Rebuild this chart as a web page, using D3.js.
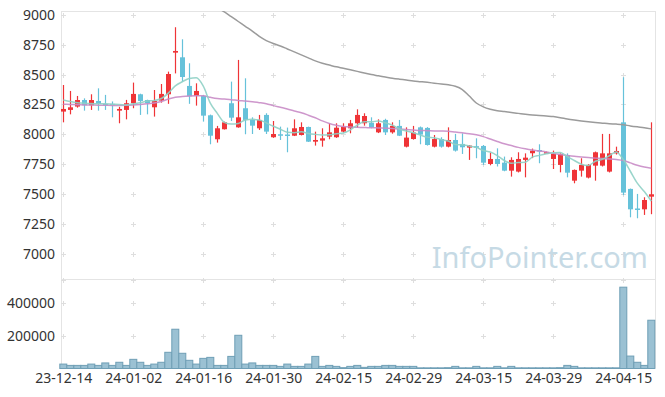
<!DOCTYPE html>
<html>
<head>
<meta charset="utf-8">
<script src="https://cdn.jsdelivr.net/npm/d3@7"></script>
<style>
  body { margin: 0; background: #fff; }
  svg { display: block; font-family: "Noto Sans", sans-serif; }
</style>
</head>
<body>
<script>
// trading days shown (yy-mm-dd)
const dates = [
  "23-12-14","23-12-15","23-12-18","23-12-19","23-12-20","23-12-21","23-12-22","23-12-26","23-12-27","23-12-28",
  "24-01-02","24-01-03","24-01-04","24-01-05","24-01-08","24-01-09","24-01-10","24-01-11","24-01-12","24-01-15",
  "24-01-16","24-01-17","24-01-18","24-01-19","24-01-22","24-01-23","24-01-24","24-01-25","24-01-26","24-01-29",
  "24-01-30","24-01-31","24-02-01","24-02-02","24-02-05","24-02-06","24-02-07","24-02-08","24-02-13","24-02-14",
  "24-02-15","24-02-16","24-02-19","24-02-20","24-02-21","24-02-22","24-02-23","24-02-26","24-02-27","24-02-28",
  "24-02-29","24-03-04","24-03-05","24-03-06","24-03-07","24-03-08","24-03-11","24-03-12","24-03-13","24-03-14",
  "24-03-15","24-03-18","24-03-19","24-03-20","24-03-21","24-03-22","24-03-25","24-03-26","24-03-27","24-03-28",
  "24-03-29","24-04-01","24-04-02","24-04-03","24-04-04","24-04-05","24-04-08","24-04-09","24-04-11","24-04-12",
  "24-04-15","24-04-16","24-04-17","24-04-18","24-04-19"
];

const opens = [
  8190,8204,8232,8287,8243,8279,8254,8255,8198,8204,
  8260,8335,8287,8226,8282,8335,8684,8645,8405,8321,
  8321,8159,7958,8042,8260,8058,8218,8120,8050,8162,
  7975,8000,7998,7988,7994,8061,7938,7947,7980,7975,
  8022,8050,8092,8092,8097,8016,8120,8016,8070,7896,
  7960,8058,8053,7896,7960,7896,7952,7919,7888,7900,
  7902,7751,7793,7762,7695,7687,7785,7841,7868,7850,
  7793,7743,7826,7611,7695,7637,7737,7737,7687,7840,
  8100,7542,7378,7371,7477
];
const highs = [
  8413,8363,8321,8301,8335,8385,8330,8275,8230,8288,
  8433,8340,8290,8371,8421,8525,8897,8796,8595,8427,
  8330,8165,8070,8106,8441,8623,8469,8142,8162,8176,
  8111,8064,8056,8125,8100,8064,8022,8050,8092,8092,
  8092,8120,8209,8176,8142,8125,8130,8100,8120,8058,
  8070,8065,8060,7994,7975,8058,8003,8008,7910,7966,
  7910,7846,7882,7813,7807,7849,7840,7880,7916,7855,
  7863,7840,7840,7705,7799,7750,7855,8003,8003,7896,
  8478,7545,7500,7472,8100
];
const lows = [
  8100,8167,8223,8198,8204,8198,8204,8142,8092,8125,
  8218,8162,8167,8148,8265,8255,8510,8440,8255,8240,
  8106,7916,7930,8040,8111,8055,8000,8002,8036,8002,
  7970,7952,7849,7985,7990,7935,7905,7896,7958,7970,
  8016,8008,8055,8072,8050,8010,7994,8005,7985,7890,
  7955,7916,7905,7890,7888,7890,7855,7835,7785,7799,
  7743,7740,7730,7690,7645,7680,7639,7800,7757,7845,
  7709,7681,7639,7589,7645,7630,7611,7730,7680,7830,
  7490,7304,7296,7324,7330
];
const closes = [
  8212,8226,8287,8243,8287,8254,8246,8245,8212,8260,
  8338,8279,8260,8279,8338,8505,8698,8480,8318,8363,
  8156,7988,8050,8100,8139,8142,8120,8072,8120,8022,
  8002,7994,7994,8050,8061,7938,7952,7966,8016,8055,
  8061,8092,8162,8153,8056,8092,8016,8070,7988,7972,
  8014,7997,7910,7960,7896,7952,7863,7891,7905,7895,
  7762,7793,7751,7695,7785,7793,7804,7863,7860,7850,
  7835,7835,7678,7701,7743,7743,7849,7840,7840,7860,
  7511,7371,7371,7449,7497
];
const volumes = [
  27000,19000,19000,19000,27000,19000,34000,19000,38000,19000,
  56000,38000,19000,27000,38000,99000,240000,93000,50000,27000,
  62000,68000,19000,19000,74000,203000,27000,34000,19000,19000,
  19000,13000,27000,13000,13000,27000,74000,13000,19000,13000,
  5000,13000,19000,7000,13000,13000,19000,19000,13000,13000,
  13000,4000,4000,4000,4000,5000,13000,4000,4000,13000,
  4000,4000,13000,4000,13000,4000,4000,4000,4000,4000,
  4000,5000,19000,13000,4000,4000,4000,4000,4000,4000,
  497000,76000,38000,19000,295000
];

// moving averages as drawn
const ma5 = [
  8288,8275,8265,8260,8258,8255,8255,8252,8250,8245,
  8255,8265,8278,8283,8300,8345,8405,8440,8468,8473,
  8403,8261,8175,8100,8085,8090,8120,8125,8120,8095,
  8067,8042,8017,8013,8020,8007,7999,7993,7995,8005,
  8010,8037,8077,8105,8105,8111,8096,8077,8044,8027,
  8012,7993,7976,7971,7955,7943,7914,7912,7901,7890,
  7864,7851,7821,7780,7757,7763,7766,7808,7823,7836,
  7846,7848,7812,7780,7749,7738,7774,7790,7820,7852,
  7788,7690,7590,7520,7440
];
const ma20 = [
  8252,8250,8248,8246,8245,8244,8243,8242,8242,8243,
  8246,8250,8255,8262,8275,8295,8310,8316,8320,8322,
  8322,8310,8300,8295,8290,8283,8278,8272,8265,8256,
  8240,8226,8212,8195,8180,8160,8138,8112,8090,8075,
  8065,8060,8058,8056,8055,8053,8051,8049,8045,8040,
  8036,8032,8030,8028,8027,8025,8018,8012,8005,7995,
  7980,7960,7940,7920,7905,7890,7878,7868,7860,7852,
  7840,7830,7822,7815,7810,7805,7800,7797,7793,7788,
  7780,7760,7740,7725,7715
];
const ma60 = [
  null,null,null,null,null,null,null,null,null,null,
  null,null,null,null,null,null,null,null,null,null,
  null,9090,9060,9025,8985,8945,8905,8865,8820,8785,
  8760,8740,8715,8690,8665,8640,8615,8595,8580,8565,
  8553,8540,8527,8513,8500,8490,8480,8470,8462,8455,
  8447,8441,8435,8428,8421,8414,8402,8375,8320,8262,
  8230,8210,8197,8190,8182,8175,8168,8162,8158,8153,
  8148,8139,8128,8119,8111,8104,8098,8093,8088,8085,
  8080,8070,8062,8055,8045
];

const priceTicks = [9000, 8750, 8500, 8250, 8000, 7750, 7500, 7250, 7000];
const volumeTicks = [400000, 200000];
const dateTicks = [0, 10, 20, 30, 40, 50, 60, 70, 80];

const width = 665, height = 397;
const plotLeft = 61, plotRight = 656, plotTop = 11, plotMid = 279, plotBottom = 368.5;

const x = d3.scaleLinear().domain([0, 84]).range([63.3, 651.3]);
const y = d3.scaleLinear().domain([6787, 9033]).range([plotMid, plotTop]);
const yv = d3.scaleLinear().domain([0, 547000]).range([plotBottom, plotMid]);

const svg = d3.select("body").append("svg")
  .attr("width", width)
  .attr("height", height);

svg.append("clipPath").attr("id", "price-clip")
  .append("rect").attr("x", plotLeft).attr("y", plotTop)
  .attr("width", plotRight - plotLeft).attr("height", plotMid - plotTop);

// frame
const frame = svg.append("g").attr("stroke", "#e4e4e4").attr("stroke-width", 1).attr("fill", "none");
frame.append("line").attr("x1", plotLeft).attr("x2", plotRight).attr("y1", plotTop + 0.5).attr("y2", plotTop + 0.5);
frame.append("line").attr("x1", plotLeft).attr("x2", plotRight).attr("y1", plotMid + 0.5).attr("y2", plotMid + 0.5);
frame.append("line").attr("x1", plotLeft + 0.5).attr("x2", plotLeft + 0.5).attr("y1", plotTop).attr("y2", plotBottom);
frame.append("line").attr("x1", plotRight - 0.5).attr("x2", plotRight - 0.5).attr("y1", plotTop).attr("y2", plotBottom);

// little "+" grid marks
const gridYs = priceTicks.map(d => y(d)).concat(volumeTicks.map(d => yv(d)), [plotMid + 0.5]);
const marks = [];
dateTicks.forEach(t => gridYs.forEach(gy => marks.push([Math.round(x(t)) + 0.5, Math.round(gy) + 0.5])));
svg.append("g").selectAll("path").data(marks).enter().append("path")
  .attr("d", d => `M${d[0] - 2.5},${d[1]}H${d[0] + 2.5}M${d[0]},${d[1] - 2.5}V${d[1] + 2.5}`)
  .attr("stroke", "#dedede")
  .attr("stroke-width", 1);

// watermark
svg.append("text")
  .attr("x", 648).attr("y", 268)
  .attr("text-anchor", "end")
  .attr("font-size", 29)
  .attr("fill", "#c6dae5")
  .text("InfoPointer.com");

// axes
const yAxis = d3.axisLeft(y).tickValues(priceTicks).tickFormat(d3.format("d")).tickSize(0).tickPadding(6);
const vAxis = d3.axisLeft(yv).tickValues(volumeTicks).tickFormat(d3.format("d")).tickSize(0).tickPadding(6);
const xAxis = d3.axisBottom(x).tickValues(dateTicks).tickFormat(i => dates[i]).tickSize(0).tickPadding(5);

[svg.append("g").attr("transform", `translate(${plotLeft},0)`).call(yAxis),
 svg.append("g").attr("transform", `translate(${plotLeft},0)`).call(vAxis),
 svg.append("g").attr("transform", `translate(0,${plotBottom})`).call(xAxis)
].forEach(g => {
  g.select(".domain").remove();
  g.selectAll("text").attr("font-size", 14).attr("fill", "#333").attr("font-family", "Noto Sans, sans-serif");
});

// volume bars
svg.append("g").selectAll("rect").data(volumes).enter().append("rect")
  .attr("x", (d, i) => x(i) - 3.5)
  .attr("y", d => yv(d))
  .attr("width", 7)
  .attr("height", d => plotBottom - yv(d))
  .attr("fill", "#9bc1d3")
  .attr("stroke", "#6f9fb6")
  .attr("stroke-width", 1);

// candles
const up = "#ef3437", down = "#66c2da";
const candles = svg.append("g").attr("clip-path", "url(#price-clip)")
  .selectAll("g").data(dates).enter().append("g");
candles.append("line")
  .attr("x1", (d, i) => Math.round(x(i)) + 0.5)
  .attr("x2", (d, i) => Math.round(x(i)) + 0.5)
  .attr("y1", (d, i) => y(highs[i]))
  .attr("y2", (d, i) => y(lows[i]))
  .attr("stroke", (d, i) => closes[i] >= opens[i] ? up : down)
  .attr("stroke-width", 1.2);
candles.append("rect")
  .attr("x", (d, i) => Math.round(x(i)) - 2)
  .attr("y", (d, i) => y(Math.max(opens[i], closes[i])))
  .attr("width", 5)
  .attr("height", (d, i) => Math.max(1.5, Math.abs(y(opens[i]) - y(closes[i]))))
  .attr("fill", (d, i) => closes[i] >= opens[i] ? up : down);

// moving average lines
const line = d3.line()
  .defined(d => d != null)
  .x((d, i) => x(i))
  .y(d => y(d))
  .curve(d3.curveMonotoneX);
const lines = svg.append("g").attr("clip-path", "url(#price-clip)").attr("fill", "none");
lines.append("path").attr("d", line(ma60)).attr("stroke", "#9b9b9b").attr("stroke-width", 1.5);
lines.append("path").attr("d", line(ma20)).attr("stroke", "#c98cc6").attr("stroke-width", 1.5).attr("opacity", 0.9);
lines.append("path").attr("d", line(ma5)).attr("stroke", "#8fd0c5").attr("stroke-width", 1.5).attr("opacity", 0.9);
</script>
</body>
</html>
